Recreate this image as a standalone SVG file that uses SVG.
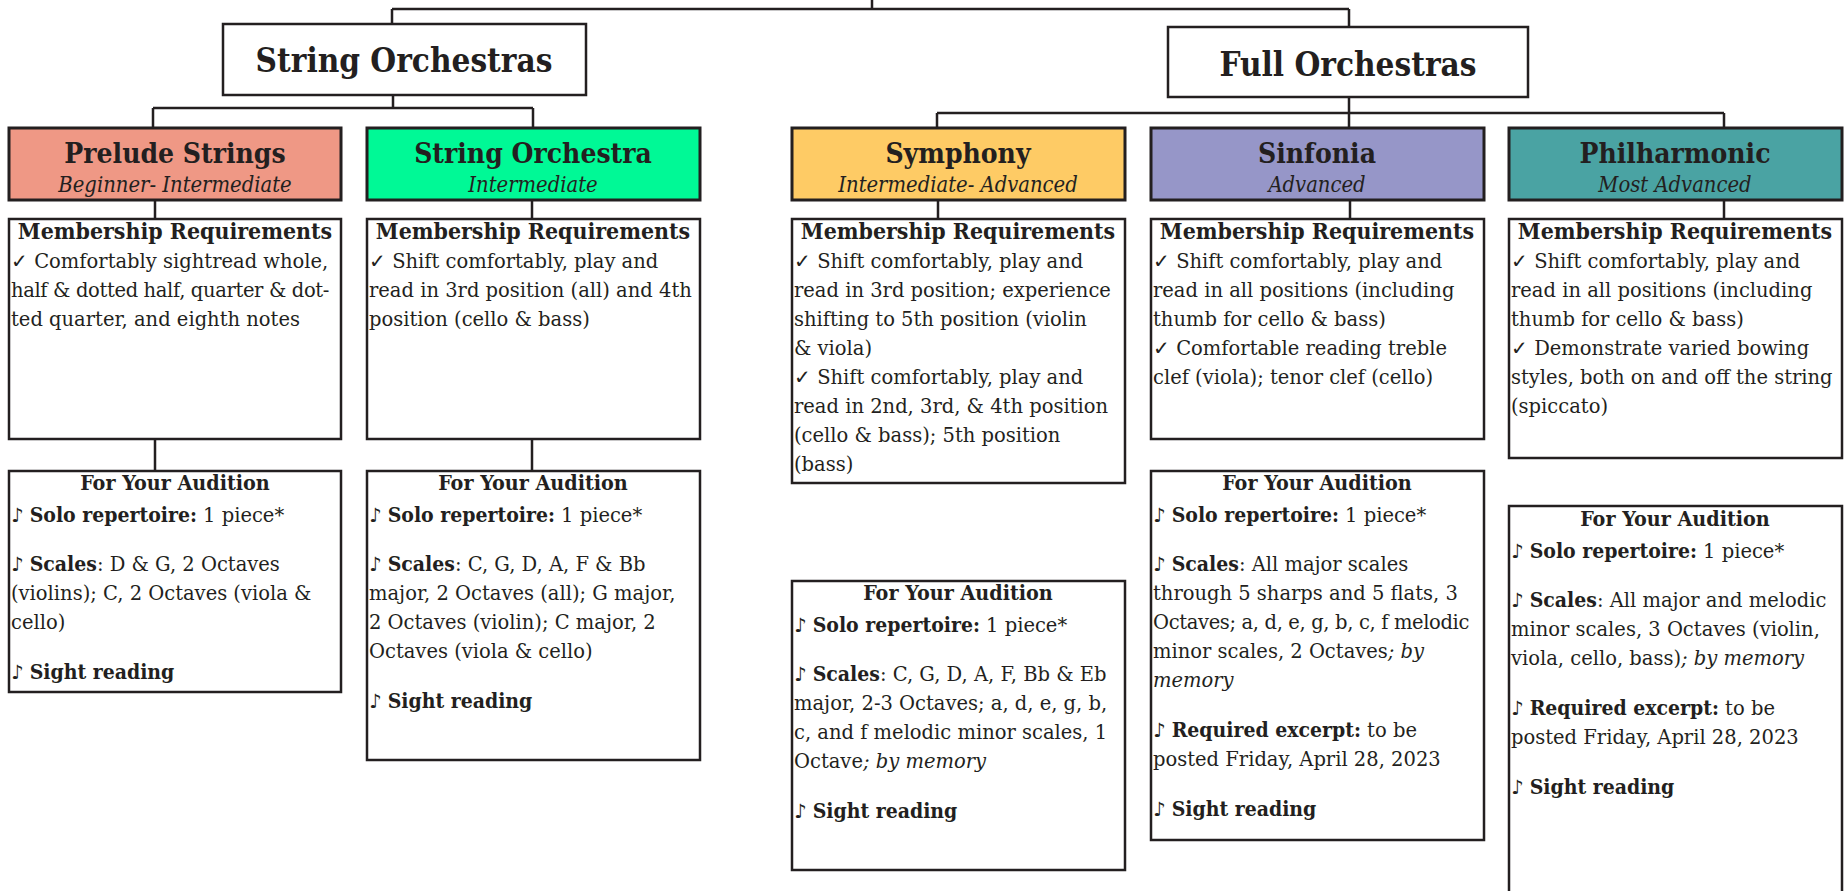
<svg xmlns="http://www.w3.org/2000/svg" width="1846" height="891" viewBox="0 0 1846 891">
<style>
.bg{fill:#ffffff}
.box{fill:#ffffff;stroke:#231f20;stroke-width:2.5}
.lvl{stroke:#231f20;stroke-width:3}
.conn path{fill:none;stroke:#231f20;stroke-width:2.5}
text{fill:#231f20}
.h1{font-family:"DejaVu Serif Condensed","DejaVu Serif",serif;font-weight:bold;font-size:33px;text-anchor:middle}
.h2{font-family:"DejaVu Serif Condensed","DejaVu Serif",serif;font-weight:bold;font-size:28px;text-anchor:middle}
.sub{font-family:"DejaVu Serif Condensed","DejaVu Serif",serif;font-style:italic;font-size:21.8px;text-anchor:middle}
.mh{font-family:"DejaVu Serif Condensed","DejaVu Serif",serif;font-weight:bold;font-size:22.9px;text-anchor:middle}
.ah{font-family:"DejaVu Serif Condensed","DejaVu Serif",serif;font-weight:bold;font-size:21.3px;text-anchor:middle}
.t{font-family:"DejaVu Serif",serif;font-size:19.5px}
.b{font-family:"DejaVu Serif Condensed","DejaVu Serif",serif;font-weight:bold;font-size:21px}
.i{font-style:italic}
.tight{letter-spacing:-0.35px}
</style>
<rect class="bg" x="0" y="0" width="1846" height="891"/>

<g id="connectors" class="conn">
<path d="M872,0 V9 M392,9 H1349 M392,9 V24 M1349,9 V27"/>
<path d="M393,95 V108 M153,108 H533 M153,108 V128 M533,108 V128"/>
<path d="M1349,97 V113 M937,113 H1724 M937,113 V128 M1349,113 V128 M1724,113 V128"/>
<path d="M155,200 V219 M532,200 V219 M938,200 V219 M1350,200 V219 M1724,200 V219"/>
<path d="M155,439 V471 M532,439 V471"/>
</g>

<g id="string-orchestras">
<rect class="box" x="223" y="24" width="363" height="71"/>
<text class="h1" x="404" y="72">String Orchestras</text>
</g>
<g id="full-orchestras">
<rect class="box" x="1168" y="27" width="360" height="70"/>
<text class="h1" x="1348" y="76">Full Orchestras</text>
</g>

<g id="prelude-strings">
<rect class="lvl" x="9" y="128" width="332" height="72" fill="#ef9885"/>
<text class="h2" x="175" y="163">Prelude Strings</text>
<text class="sub" x="175" y="192">Beginner- Intermediate</text>
</g>
<g id="string-orchestra">
<rect class="lvl" x="367" y="128" width="333" height="72" fill="#00f996"/>
<text class="h2" x="533" y="163">String Orchestra</text>
<text class="sub" x="533" y="192">Intermediate</text>
</g>
<g id="symphony">
<rect class="lvl" x="792" y="128" width="333" height="72" fill="#fecb65"/>
<text class="h2" x="958" y="163">Symphony</text>
<text class="sub" x="958" y="192">Intermediate- Advanced</text>
</g>
<g id="sinfonia">
<rect class="lvl" x="1151" y="128" width="333" height="72" fill="#9696c8"/>
<text class="h2" x="1317" y="163">Sinfonia</text>
<text class="sub" x="1317" y="192">Advanced</text>
</g>
<g id="philharmonic">
<rect class="lvl" x="1509" y="128" width="333" height="72" fill="#4aa3a3"/>
<text class="h2" x="1675" y="163">Philharmonic</text>
<text class="sub" x="1675" y="192">Most Advanced</text>
</g>

<g id="prelude-membership">
<rect class="box" x="9" y="219" width="332" height="220"/>
<text class="mh" x="175" y="239">Membership Requirements</text>
<text class="t"><tspan x="11" y="268">✓ Comfortably sightread whole,</tspan><tspan x="11" y="297" class="tight">half &amp; dotted half, quarter &amp; dot-</tspan><tspan x="11" y="326">ted quarter, and eighth notes</tspan></text>
</g>
<g id="string-orchestra-membership">
<rect class="box" x="367" y="219" width="333" height="220"/>
<text class="mh" x="533" y="239">Membership Requirements</text>
<text class="t"><tspan x="369" y="268">✓ Shift comfortably, play and</tspan><tspan x="369" y="297">read in 3rd position (all) and 4th</tspan><tspan x="369" y="326">position (cello &amp; bass)</tspan></text>
</g>
<g id="symphony-membership">
<rect class="box" x="792" y="219" width="333" height="264"/>
<text class="mh" x="958" y="239">Membership Requirements</text>
<text class="t"><tspan x="794" y="268">✓ Shift comfortably, play and</tspan><tspan x="794" y="297">read in 3rd position; experience</tspan><tspan x="794" y="326">shifting to 5th position (violin</tspan><tspan x="794" y="355">&amp; viola)</tspan><tspan x="794" y="384">✓ Shift comfortably, play and</tspan><tspan x="794" y="413">read in 2nd, 3rd, &amp; 4th position</tspan><tspan x="794" y="442">(cello &amp; bass); 5th position</tspan><tspan x="794" y="471">(bass)</tspan></text>
</g>
<g id="sinfonia-membership">
<rect class="box" x="1151" y="219" width="333" height="220"/>
<text class="mh" x="1317" y="239">Membership Requirements</text>
<text class="t"><tspan x="1153" y="268">✓ Shift comfortably, play and</tspan><tspan x="1153" y="297">read in all positions (including</tspan><tspan x="1153" y="326">thumb for cello &amp; bass)</tspan><tspan x="1153" y="355">✓ Comfortable reading treble</tspan><tspan x="1153" y="384">clef (viola); tenor clef (cello)</tspan></text>
</g>
<g id="philharmonic-membership">
<rect class="box" x="1509" y="219" width="333" height="239"/>
<text class="mh" x="1675" y="239">Membership Requirements</text>
<text class="t"><tspan x="1511" y="268">✓ Shift comfortably, play and</tspan><tspan x="1511" y="297">read in all positions (including</tspan><tspan x="1511" y="326">thumb for cello &amp; bass)</tspan><tspan x="1511" y="355">✓ Demonstrate varied bowing</tspan><tspan x="1511" y="384">styles, both on and off the string</tspan><tspan x="1511" y="413">(spiccato)</tspan></text>
</g>

<g id="prelude-audition">
<rect class="box" x="9" y="471" width="332" height="221"/>
<text class="ah" x="175" y="490">For Your Audition</text>
<text class="t"><tspan x="11" y="522">♪ <tspan class="b">Solo repertoire:</tspan> 1 piece*</tspan><tspan x="11" y="571">♪ <tspan class="b">Scales</tspan>: D &amp; G, 2 Octaves</tspan><tspan x="11" y="600">(violins); C, 2 Octaves (viola &amp;</tspan><tspan x="11" y="629">cello)</tspan><tspan x="11" y="679">♪ <tspan class="b">Sight reading</tspan></tspan></text>
</g>
<g id="string-orchestra-audition">
<rect class="box" x="367" y="471" width="333" height="289"/>
<text class="ah" x="533" y="490">For Your Audition</text>
<text class="t"><tspan x="369" y="522">♪ <tspan class="b">Solo repertoire:</tspan> 1 piece*</tspan><tspan x="369" y="571">♪ <tspan class="b">Scales</tspan>: C, G, D, A, F &amp; Bb</tspan><tspan x="369" y="600">major, 2 Octaves (all); G major,</tspan><tspan x="369" y="629">2 Octaves (violin); C major, 2</tspan><tspan x="369" y="658">Octaves (viola &amp; cello)</tspan><tspan x="369" y="708">♪ <tspan class="b">Sight reading</tspan></tspan></text>
</g>
<g id="symphony-audition">
<rect class="box" x="792" y="581" width="333" height="289"/>
<text class="ah" x="958" y="600">For Your Audition</text>
<text class="t"><tspan x="794" y="632">♪ <tspan class="b">Solo repertoire:</tspan> 1 piece*</tspan><tspan x="794" y="681">♪ <tspan class="b">Scales</tspan>: C, G, D, A, F, Bb &amp; Eb</tspan><tspan x="794" y="710">major, 2-3 Octaves; a, d, e, g, b,</tspan><tspan x="794" y="739">c, and f melodic minor scales, 1</tspan><tspan x="794" y="768">Octave<tspan class="i">; by memory</tspan></tspan><tspan x="794" y="818">♪ <tspan class="b">Sight reading</tspan></tspan></text>
</g>
<g id="sinfonia-audition">
<rect class="box" x="1151" y="471" width="333" height="369"/>
<text class="ah" x="1317" y="490">For Your Audition</text>
<text class="t"><tspan x="1153" y="522">♪ <tspan class="b">Solo repertoire:</tspan> 1 piece*</tspan><tspan x="1153" y="571">♪ <tspan class="b">Scales</tspan>: All major scales</tspan><tspan x="1153" y="600">through 5 sharps and 5 flats, 3</tspan><tspan x="1153" y="629" class="tight">Octaves;  a, d, e, g, b, c, f melodic</tspan><tspan x="1153" y="658">minor scales, 2 Octaves<tspan class="i">; by</tspan></tspan><tspan x="1153" y="687" class="i">memory</tspan><tspan x="1153" y="737">♪ <tspan class="b">Required excerpt:</tspan> to be</tspan><tspan x="1153" y="766">posted Friday, April 28, 2023</tspan><tspan x="1153" y="816">♪ <tspan class="b">Sight reading</tspan></tspan></text>
</g>
<g id="philharmonic-audition">
<rect class="box" x="1509" y="506" width="333" height="400"/>
<text class="ah" x="1675" y="526">For Your Audition</text>
<text class="t"><tspan x="1511" y="558">♪ <tspan class="b">Solo repertoire:</tspan> 1 piece*</tspan><tspan x="1511" y="607">♪ <tspan class="b">Scales</tspan>: All major and melodic</tspan><tspan x="1511" y="636">minor scales, 3 Octaves (violin,</tspan><tspan x="1511" y="665">viola, cello, bass)<tspan class="i">; by memory</tspan></tspan><tspan x="1511" y="715">♪ <tspan class="b">Required excerpt:</tspan> to be</tspan><tspan x="1511" y="744">posted Friday, April 28, 2023</tspan><tspan x="1511" y="794">♪ <tspan class="b">Sight reading</tspan></tspan></text>
</g>
</svg>
